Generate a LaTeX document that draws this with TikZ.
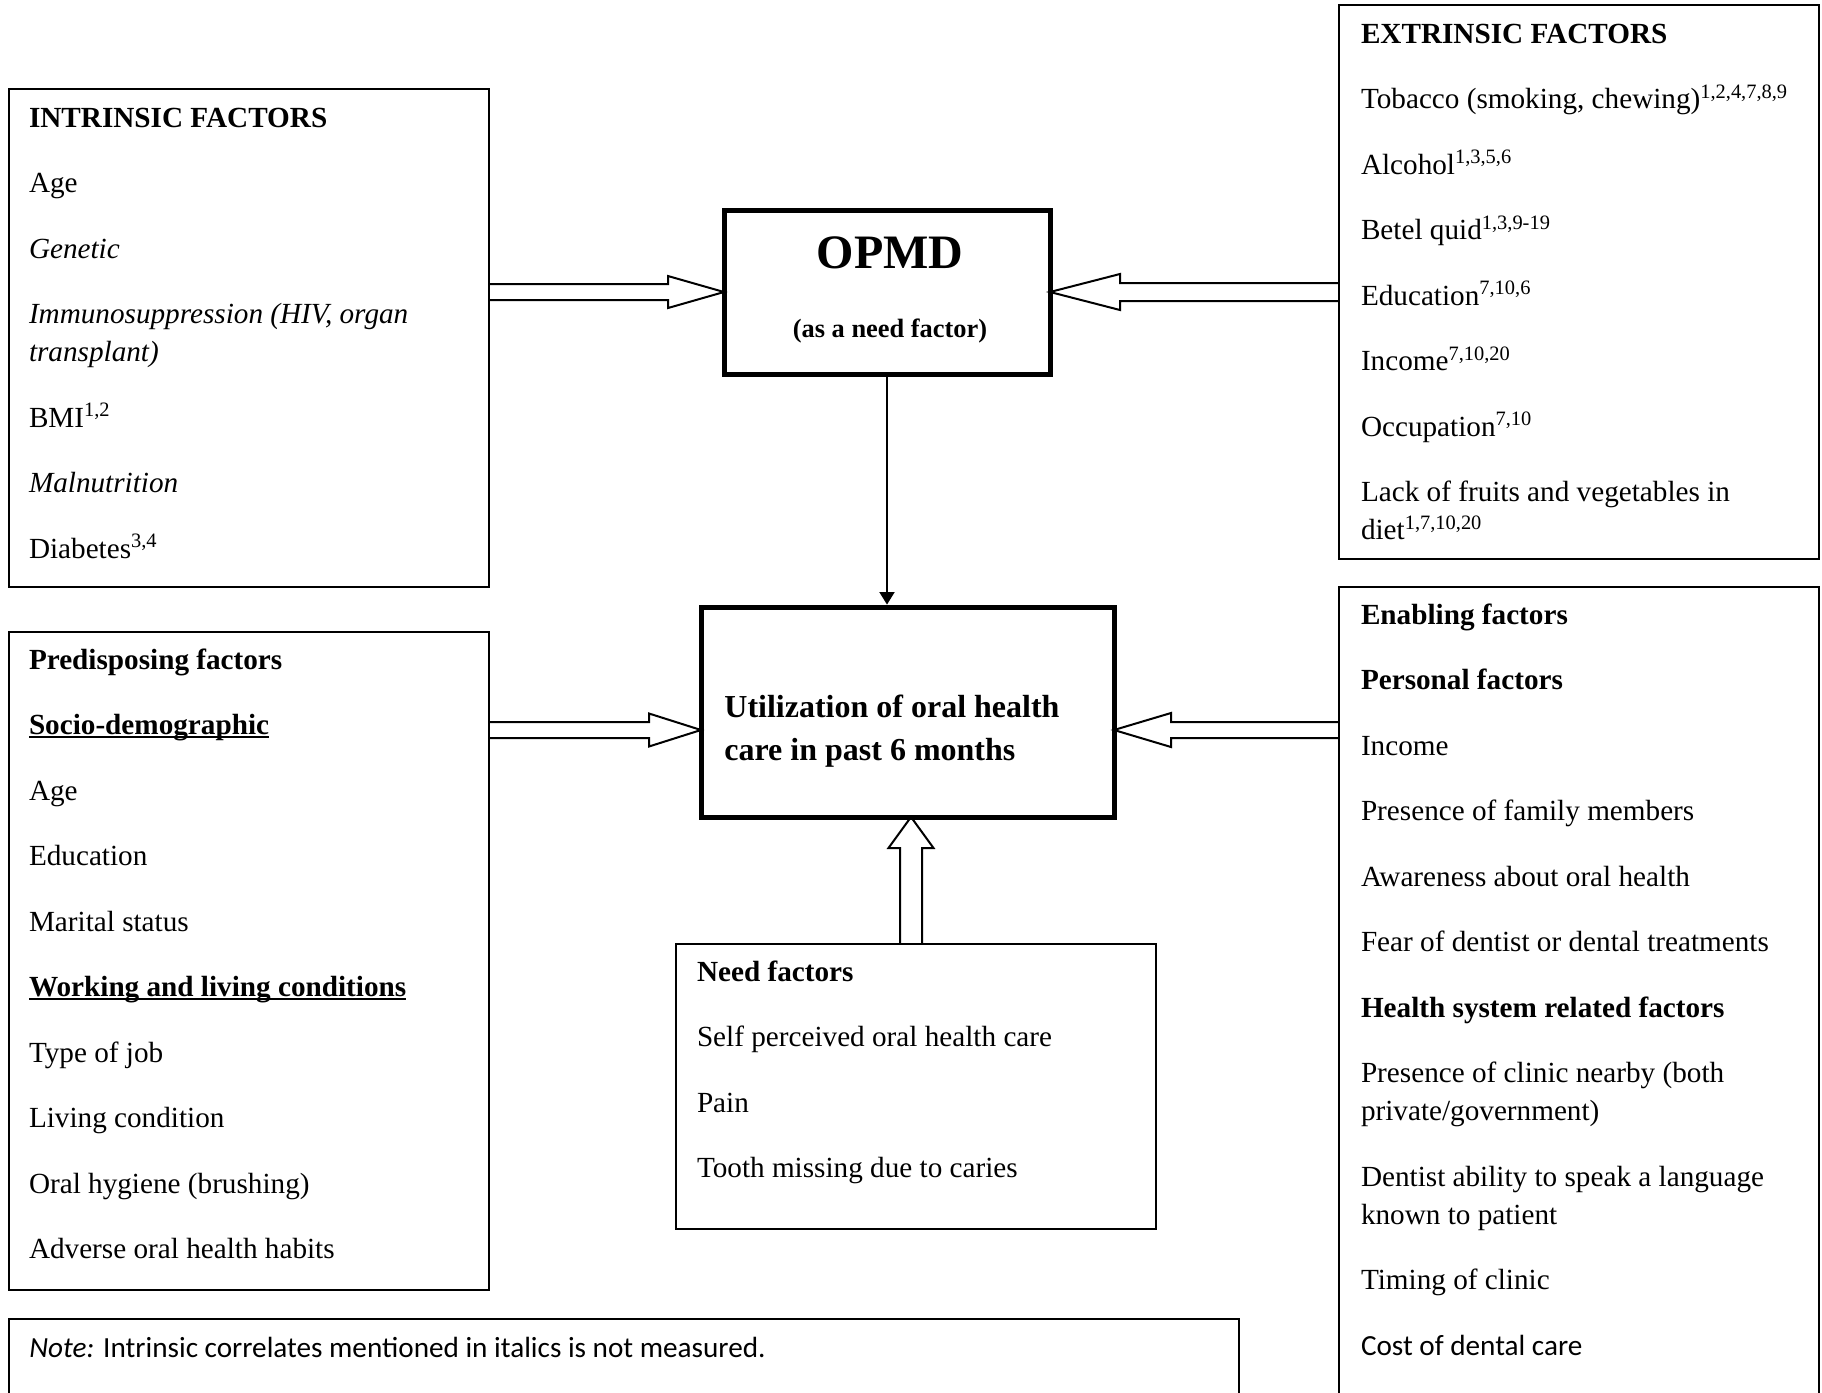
\documentclass[tikz,border=0pt]{standalone}
\usepackage{fontspec}
\setmainfont{Liberation Serif}
\newfontfamily\calib{Carlito}
\usetikzlibrary{calc,arrows.meta}
\newcommand\myul[1]{\setbox0\hbox{#1}\rlap{\rule[-1.7pt]{\wd0}{0.75pt}}\box0}
\newcommand\firstl{\rule{0pt}{14pt}}
\def\nl{\\[13.75pt]}
% block arrow: #1 start, #2 tip, #3 shaft half-width, #4 head half-width, #5 head length
\newcommand\blockarrow[5]{%
  \coordinate (ba-B) at ($(#2)!#5!(#1)$);
  \draw[arrowline] ($(#1)!#3!90:(#2)$) -- ($(ba-B)!#3!90:(#2)$) -- ($(ba-B)!#4!90:(#2)$)
    -- (#2) -- ($(ba-B)!#4!-90:(#2)$) -- ($(ba-B)!#3!-90:(#2)$) -- ($(#1)!#3!-90:(#2)$);
}
\begin{document}
\begin{tikzpicture}[x=0.5pt,y=-0.5pt,
  thinbox/.style={draw, line width=1pt, inner sep=0pt, outer sep=0pt, anchor=north west},
  thickbox/.style={draw, line width=2.5pt, inner sep=0pt, outer sep=0pt, anchor=north west},
  body/.style={anchor=north west, inner sep=0pt, outer sep=0pt, align=left, font=\fontsize{14.6}{19}\selectfont},
  arrowline/.style={line width=1pt, line join=miter}]
\path[use as bounding box, clip] (0,0) rectangle (1822,1393);
\fill[white] (0,0) rectangle (1822,1393);

% boxes
\node[thinbox, minimum width=240pt, minimum height=249pt] (intr) at (9,89) {};
\node[thinbox, minimum width=240pt, minimum height=277pt] (extr) at (1339,5) {};
\node[thickbox, minimum width=163pt, minimum height=82pt] (opmd) at (724,210) {};
\node[thickbox, minimum width=206.5pt, minimum height=105pt] (util) at (701,607) {};
\node[thinbox, minimum width=240pt, minimum height=329pt] (pred) at (9,632) {};
\node[thinbox, minimum width=240pt, minimum height=420pt] (enab) at (1339,587) {};
\node[thinbox, minimum width=240pt, minimum height=142.5pt] (need) at (676,944) {};
\node[thinbox, minimum width=615pt, minimum height=60pt] (note) at (9,1319) {};

% texts
\node[body] (intrtxt) at ($(intr.north west)+(20,10)$) {\firstl\textbf{INTRINSIC FACTORS}\nl Age\nl \textit{Genetic}\nl \textit{Immunosuppression (HIV, organ}\\ \textit{transplant)}\nl BMI\textsuperscript{1,2}\nl \textit{Malnutrition}\nl Diabetes\textsuperscript{3,4}};

\node[body] (extrtxt) at ($(extr.north west)+(22,10)$) {\firstl\textbf{EXTRINSIC FACTORS}\nl Tobacco (smoking, chewing)\textsuperscript{1,2,4,7,8,9}\nl Alcohol\textsuperscript{1,3,5,6}\nl Betel quid\textsuperscript{1,3,9-19}\nl Education\textsuperscript{7,10,6}\nl Income\textsuperscript{7,10,20}\nl Occupation\textsuperscript{7,10}\nl Lack of fruits and vegetables in\\ diet\textsuperscript{1,7,10,20}};

\node[body] (predtxt) at ($(pred.north west)+(20,9)$) {\firstl\textbf{Predisposing factors}\nl \textbf{\myul{Socio-demographic}}\nl Age\nl Education\nl Marital status\nl \textbf{\myul{Working and living conditions}}\nl Type of job\nl Living condition\nl Oral hygiene (brushing)\nl Adverse oral health habits};

\node[body] (enabtxt) at ($(enab.north west)+(22,9)$) {\firstl\textbf{Enabling factors}\nl \textbf{Personal factors}\nl Income\nl Presence of family members\nl Awareness about oral health\nl Fear of dentist or dental treatments\nl \textbf{Health system related factors}\nl Presence of clinic nearby (both\\ private/government)\nl Dentist ability to speak a language\\ known to patient\nl Timing of clinic\nl {\calib Cost of dental care}};

\node[body] (needtxt) at ($(need.north west)+(21,9)$) {\firstl\textbf{Need factors}\nl Self perceived oral health care\nl Pain\nl Tooth missing due to caries};

\node[anchor=base west, inner sep=0pt, font=\calib\fontsize{14.6}{19}\selectfont] (notetxt) at ($(note.north west)+(20,38)$) {\textit{Note:} Intrinsic correlates mentioned in italics is not measured.};

\node[anchor=base, inner sep=0pt, font=\bfseries\fontsize{24}{28}\selectfont] (opmdt) at ($(opmd.north)+(3,58)$) {OPMD};
\node[anchor=base, inner sep=0pt, font=\bfseries\fontsize{13.2}{16}\selectfont] (opmds) at ($(opmd.north)+(3,127)$) {(as a need factor)};

\node[anchor=north west, inner sep=0pt, align=left, font=\bfseries\fontsize{16}{21.5}\selectfont] (utiltxt) at ($(util.north west)+(23,82)$) {\firstl Utilization of oral health\\ care in past 6 months};

% connectors
\coordinate (a1s) at (intr.east |- opmd.west);
\coordinate (a2s) at (extr.west |- opmd.east);
\coordinate (a3t) at ($(util.west)+(0,18)$);
\coordinate (a3s) at (pred.east |- a3t);
\coordinate (a4t) at ($(util.east)+(0,18)$);
\coordinate (a4s) at (enab.west |- a4t);
\coordinate (a5t) at ($(util.south)+(3.5,0)$);
\coordinate (a5s) at (a5t |- need.north);

\blockarrow{a1s}{opmd.west}{4pt}{8pt}{28pt}
\blockarrow{a2s}{opmd.east}{4.5pt}{9pt}{35pt}
\blockarrow{a3s}{a3t}{4pt}{8.25pt}{26pt}
\blockarrow{a4s}{a4t}{4pt}{8.5pt}{28.5pt}
\blockarrow{a5s}{a5t}{5.5pt}{11.25pt}{15.5pt}

\draw[line width=1pt, -{Triangle[length=6.3pt,width=7.5pt]}, shorten >=1.2pt] (opmd.south) -- (opmd.south |- util.north);
\end{tikzpicture}
\end{document}
